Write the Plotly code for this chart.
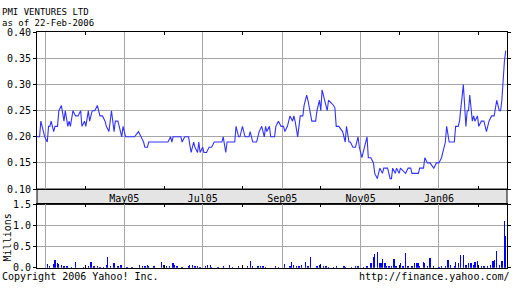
import plotly.graph_objects as go

# ---------------- data ----------------
title_name = "PMI VENTURES LTD"
title_date = "as of 22-Feb-2006"

price_dates = [
    "2005-02-22", "2005-02-24", "2005-02-25", "2005-02-28", "2005-03-02", "2005-03-03", "2005-03-04",
    "2005-03-05", "2005-03-07", "2005-03-08", "2005-03-10", "2005-03-11", "2005-03-13", "2005-03-15",
    "2005-03-16", "2005-03-18", "2005-03-19", "2005-03-20", "2005-03-22", "2005-03-24", "2005-03-26",
    "2005-03-28", "2005-03-29", "2005-03-31", "2005-04-01", "2005-04-03", "2005-04-04", "2005-04-06",
    "2005-04-08", "2005-04-10", "2005-04-12", "2005-04-14", "2005-04-16", "2005-04-17", "2005-04-19",
    "2005-04-21", "2005-04-23", "2005-04-24", "2005-04-26", "2005-04-29", "2005-04-30", "2005-05-02",
    "2005-05-09", "2005-05-12", "2005-05-14", "2005-05-16", "2005-05-17", "2005-05-19", "2005-05-20",
    "2005-06-04", "2005-06-06", "2005-06-07", "2005-06-08", "2005-06-14", "2005-06-15", "2005-06-17",
    "2005-06-20", "2005-06-22", "2005-06-24", "2005-06-25", "2005-06-27", "2005-06-28", "2005-06-29",
    "2005-07-01", "2005-07-02", "2005-07-04", "2005-07-06", "2005-07-08", "2005-07-10", "2005-07-16",
    "2005-07-17", "2005-07-19", "2005-07-20", "2005-07-26", "2005-07-27", "2005-07-29", "2005-07-30",
    "2005-08-01", "2005-08-03", "2005-08-06", "2005-08-07", "2005-08-09", "2005-08-12", "2005-08-14",
    "2005-08-16", "2005-08-18", "2005-08-19", "2005-08-20", "2005-08-22", "2005-08-23", "2005-08-26",
    "2005-08-27", "2005-08-29", "2005-08-31", "2005-09-02", "2005-09-03", "2005-09-05", "2005-09-07",
    "2005-09-09", "2005-09-10", "2005-09-11", "2005-09-13", "2005-09-15", "2005-09-17", "2005-09-18",
    "2005-09-20", "2005-09-21", "2005-09-23", "2005-09-24", "2005-09-27", "2005-09-28", "2005-09-30",
    "2005-10-01", "2005-10-02", "2005-10-04", "2005-10-06", "2005-10-07", "2005-10-09", "2005-10-11",
    "2005-10-12", "2005-10-13", "2005-10-15", "2005-10-18", "2005-10-20", "2005-10-21", "2005-10-23",
    "2005-10-24", "2005-10-26", "2005-10-28", "2005-10-30", "2005-10-31", "2005-11-02", "2005-11-04",
    "2005-11-06", "2005-11-07", "2005-11-09", "2005-11-11", "2005-11-12", "2005-11-14", "2005-11-15",
    "2005-11-16", "2005-11-18", "2005-11-19", "2005-11-21", "2005-11-22", "2005-11-24", "2005-11-25",
    "2005-11-26", "2005-11-28", "2005-11-29", "2005-12-01", "2005-12-02", "2005-12-06", "2005-12-08",
    "2005-12-10", "2005-12-11", "2005-12-16", "2005-12-17", "2005-12-20", "2005-12-21", "2005-12-23",
    "2005-12-25", "2005-12-28", "2005-12-30", "2006-01-01", "2006-01-03", "2006-01-05", "2006-01-06",
    "2006-01-07", "2006-01-09", "2006-01-10", "2006-01-13", "2006-01-14", "2006-01-16", "2006-01-17",
    "2006-01-19", "2006-01-20", "2006-01-22", "2006-01-23", "2006-01-24", "2006-01-25", "2006-01-27",
    "2006-01-28", "2006-01-29", "2006-01-31", "2006-02-01", "2006-02-03", "2006-02-05", "2006-02-07",
    "2006-02-09", "2006-02-11", "2006-02-13", "2006-02-15", "2006-02-17", "2006-02-18", "2006-02-19",
    "2006-02-20", "2006-02-21", "2006-02-22",
]
price_values = [
    0.20, 0.20, 0.23, 0.20, 0.19, 0.22, 0.22,
    0.23, 0.21, 0.22, 0.22, 0.25, 0.26, 0.23,
    0.25, 0.22, 0.23, 0.22, 0.25, 0.24, 0.24,
    0.25, 0.22, 0.23, 0.22, 0.25, 0.23, 0.25,
    0.25, 0.26, 0.24, 0.24, 0.23, 0.22, 0.21,
    0.25, 0.21, 0.23, 0.23, 0.20, 0.22, 0.20,
    0.20, 0.21, 0.20, 0.19, 0.18, 0.18, 0.19,
    0.19, 0.20, 0.19, 0.20, 0.20, 0.19, 0.20,
    0.20, 0.17, 0.19, 0.18, 0.17, 0.19, 0.17,
    0.18, 0.17, 0.17, 0.18, 0.18, 0.19, 0.19,
    0.20, 0.17, 0.19, 0.19, 0.22, 0.20, 0.20,
    0.22, 0.20, 0.20, 0.21, 0.19, 0.19, 0.21,
    0.22, 0.20, 0.22, 0.21, 0.22, 0.20, 0.20,
    0.22, 0.23, 0.22, 0.22, 0.21, 0.22, 0.24,
    0.23, 0.24, 0.23, 0.20, 0.24, 0.24, 0.26,
    0.28, 0.27, 0.24, 0.23, 0.23, 0.25, 0.27,
    0.25, 0.29, 0.27, 0.25, 0.27, 0.265, 0.26,
    0.255, 0.22, 0.22, 0.21, 0.19, 0.22, 0.19,
    0.19, 0.18, 0.18, 0.20, 0.18, 0.16, 0.18,
    0.20, 0.16, 0.16, 0.15, 0.13, 0.12, 0.13,
    0.14, 0.13, 0.14, 0.14, 0.14, 0.12, 0.12,
    0.14, 0.13, 0.14, 0.13, 0.14, 0.13, 0.14,
    0.14, 0.13, 0.13, 0.14, 0.14, 0.16, 0.15,
    0.15, 0.14, 0.15, 0.15, 0.16, 0.18, 0.19,
    0.22, 0.19, 0.19, 0.19, 0.22, 0.22, 0.23,
    0.27, 0.30, 0.22, 0.25, 0.25, 0.28, 0.23,
    0.24, 0.23, 0.24, 0.22, 0.23, 0.23, 0.21,
    0.23, 0.24, 0.24, 0.27, 0.25, 0.25, 0.27,
    0.32, 0.345, 0.365,
]

volume_dates = [
    "2005-03-02", "2005-03-04", "2005-03-07", "2005-03-08", "2005-03-10", "2005-03-11", "2005-03-13",
    "2005-03-15", "2005-03-17", "2005-03-18", "2005-03-21", "2005-03-24", "2005-03-30", "2005-04-01",
    "2005-04-03", "2005-04-05", "2005-04-07", "2005-04-08", "2005-04-10", "2005-04-12", "2005-04-15",
    "2005-04-17", "2005-04-18", "2005-04-20", "2005-04-23", "2005-04-26", "2005-04-28", "2005-04-29",
    "2005-05-03", "2005-05-07", "2005-05-13", "2005-05-15", "2005-05-17", "2005-05-19", "2005-05-20",
    "2005-05-24", "2005-05-30", "2005-06-01", "2005-06-03", "2005-06-05", "2005-06-08", "2005-06-09",
    "2005-06-11", "2005-06-15", "2005-06-20", "2005-06-21", "2005-06-23", "2005-06-25", "2005-06-27",
    "2005-06-29", "2005-07-03", "2005-07-05", "2005-07-07", "2005-07-08", "2005-07-13", "2005-07-17",
    "2005-07-22", "2005-07-24", "2005-07-29", "2005-08-01", "2005-08-05", "2005-08-07", "2005-08-09",
    "2005-08-13", "2005-08-15", "2005-08-17", "2005-08-19", "2005-08-27", "2005-08-29", "2005-09-03",
    "2005-09-07", "2005-09-08", "2005-09-10", "2005-09-12", "2005-09-14", "2005-09-16", "2005-09-19",
    "2005-09-21", "2005-09-23", "2005-09-28", "2005-09-30", "2005-10-01", "2005-10-03", "2005-10-05",
    "2005-10-07", "2005-10-11", "2005-10-13", "2005-10-19", "2005-10-20", "2005-10-25", "2005-10-28",
    "2005-10-30", "2005-11-03", "2005-11-06", "2005-11-09", "2005-11-11", "2005-11-12", "2005-11-14",
    "2005-11-16", "2005-11-17", "2005-11-18", "2005-11-20", "2005-11-21", "2005-11-23", "2005-11-25",
    "2005-11-27", "2005-11-28", "2005-11-29", "2005-12-02", "2005-12-04", "2005-12-06", "2005-12-08",
    "2005-12-11", "2005-12-13", "2005-12-15", "2005-12-16", "2005-12-17", "2005-12-20", "2005-12-21",
    "2005-12-23", "2005-12-25", "2005-12-28", "2006-01-01", "2006-01-03", "2006-01-06", "2006-01-08",
    "2006-01-10", "2006-01-13", "2006-01-14", "2006-01-16", "2006-01-18", "2006-01-20", "2006-01-22",
    "2006-01-24", "2006-01-26", "2006-01-28", "2006-01-29", "2006-01-31", "2006-02-03", "2006-02-05",
    "2006-02-08", "2006-02-10", "2006-02-12", "2006-02-13", "2006-02-15", "2006-02-17", "2006-02-19",
    "2006-02-21", "2006-02-22",
]
volume_millions = [
    0.08, 0.05, 0.08, 0.18, 0.10, 0.08, 0.06,
    0.04, 0.04, 0.03, 0.02, 0.14, 0.02, 0.03,
    0.05, 0.14, 0.05, 0.03, 0.03, 0.02, 0.02,
    0.06, 0.25, 0.03, 0.10, 0.03, 0.06, 0.06,
    0.02, 0.02, 0.06, 0.04, 0.03, 0.06, 0.04,
    0.03, 0.13, 0.06, 0.05, 0.03, 0.10, 0.06,
    0.03, 0.02, 0.04, 0.06, 0.06, 0.04, 0.03,
    0.02, 0.04, 0.07, 0.07, 0.02, 0.02, 0.04,
    0.06, 0.02, 0.03, 0.03, 0.03, 0.16, 0.05,
    0.03, 0.03, 0.03, 0.02, 0.03, 0.02, 0.09,
    0.03, 0.13, 0.06, 0.05, 0.04, 0.06, 0.13,
    0.05, 0.25, 0.03, 0.07, 0.08, 0.05, 0.03,
    0.02, 0.02, 0.03, 0.04, 0.02, 0.02, 0.05,
    0.03, 0.02, 0.04, 0.10, 0.25, 0.33, 0.37,
    0.10, 0.12, 0.20, 0.10, 0.05, 0.03, 0.05,
    0.20, 0.05, 0.04, 0.11, 0.04, 0.35, 0.05,
    0.03, 0.10, 0.10, 0.11, 0.05, 0.13, 0.10,
    0.03, 0.22, 0.04, 0.02, 0.05, 0.04, 0.17,
    0.06, 0.03, 0.13, 0.10, 0.30, 0.30, 0.06,
    0.10, 0.10, 0.06, 0.13, 0.15, 0.05, 0.04,
    0.05, 0.07, 0.15, 0.17, 0.40, 0.06, 0.15,
    1.10, 0.76,
]

x_range = ["2005-02-22", "2006-02-23"]
label_months = ["2005-03-01", "2005-05-01", "2005-07-01", "2005-09-01", "2005-11-01", "2006-01-01"]
label_texts = ["", "May05", "Jul05", "Sep05", "Nov05", "Jan06"]
minor_months = ["2005-04-01", "2005-06-01", "2005-08-01", "2005-10-01", "2005-12-01", "2006-02-01"]
price_ticks = [0.10, 0.15, 0.20, 0.25, 0.30, 0.35, 0.40]
volume_ticks = [0.0, 0.5, 1.0, 1.5]

# ---------------- styling ----------------
W, H = 512, 288
FONT = "DejaVu Sans Mono"
GRID = "#a6a6a6"
LINE_BLUE = "#3333ff"
BAR_BLUE = "#0000ff"

left_px, right_px = 37, 507
main_top_px, main_bot_px = 27.5, 191
vol_top_px, vol_bot_px = 207, 273

xdom = [left_px / W, right_px / W]
main_dom = [(H - main_bot_px) / H, (H - main_top_px) / H]
vol_dom = [(H - vol_bot_px) / H, (H - vol_top_px) / H]

fig = go.Figure()
fig.add_trace(go.Scatter(
    x=price_dates, y=price_values, mode="lines",
    line=dict(color=LINE_BLUE, width=1.1), xaxis="x", yaxis="y",
    hoverinfo="skip", showlegend=False,
))
fig.add_trace(go.Bar(
    x=volume_dates, y=volume_millions, marker=dict(color=BAR_BLUE, line=dict(width=0)),
    width=86400000 * 1.0, xaxis="x2", yaxis="y2", hoverinfo="skip", showlegend=False,
))

xcommon = dict(
    type="date", range=x_range, domain=xdom,
    tickmode="array", tickvals=label_months,
    showgrid=True, gridcolor=GRID, gridwidth=1,
    ticks="", showline=True, linecolor="black", linewidth=1, mirror="ticks",
    minor=dict(tickmode="array", tickvals=minor_months, ticks="inside", ticklen=3,
               tickcolor="black", showgrid=False),
    tickfont=dict(family=FONT, size=10, color="black"),
    zeroline=False, fixedrange=True,
)
ycommon = dict(
    tickmode="array", ticks="outside", ticklen=3, tickcolor="black",
    showgrid=True, gridcolor=GRID, gridwidth=1,
    showline=True, linecolor="black", linewidth=1, mirror="ticks",
    tickfont=dict(family=FONT, size=10, color="black"),
    zeroline=False, fixedrange=True,
)

fig.update_layout(
    width=W, height=H, margin=dict(l=0, r=0, t=0, b=0),
    paper_bgcolor="white", plot_bgcolor="white",
    bargap=0,
    xaxis=dict(xcommon, anchor="y", ticktext=label_texts, showticklabels=True),
    yaxis=dict(ycommon, anchor="x", domain=main_dom, range=[0.10, 0.40],
               tickvals=price_ticks, tickformat=".2f"),
    xaxis2=dict(xcommon, anchor="y2", ticktext=label_texts, showticklabels=False),
    yaxis2=dict(ycommon, anchor="x2", domain=vol_dom, range=[0, 1.5],
                tickvals=volume_ticks, tickformat=".1f"),
    shapes=[dict(type="rect", xref="paper", yref="paper",
                 x0=xdom[0], x1=xdom[1], y0=vol_dom[1], y1=main_dom[0],
                 fillcolor="#e4e4e4", line=dict(color="black", width=1), layer="below")],
    annotations=[
        dict(text=title_name, xref="paper", yref="paper", x=0, y=1 - 6 / H,
             xanchor="left", yanchor="middle", showarrow=False,
             font=dict(family=FONT, size=9, color="black")),
        dict(text=title_date, xref="paper", yref="paper", x=0, y=1 - 18 / H,
             xanchor="left", yanchor="middle", showarrow=False,
             font=dict(family=FONT, size=9, color="black")),
        dict(text="Millions", xref="paper", yref="paper", x=7.5 / W, y=1 - 242 / H,
             xanchor="center", yanchor="middle", textangle=-90, showarrow=False,
             font=dict(family=FONT, size=10, color="black")),
        dict(text="Copyright 2006 Yahoo! Inc.", xref="paper", yref="paper", x=0, y=1 - 282 / H,
             xanchor="left", yanchor="middle", showarrow=False,
             font=dict(family=FONT, size=10, color="black")),
        dict(text="http://finance.yahoo.com/", xref="paper", yref="paper", x=1, y=1 - 282 / H,
             xanchor="right", yanchor="middle", showarrow=False,
             font=dict(family=FONT, size=10, color="black")),
    ],
)

fig.write_html("out.html", config={"displayModeBar": False, "staticPlot": True})
